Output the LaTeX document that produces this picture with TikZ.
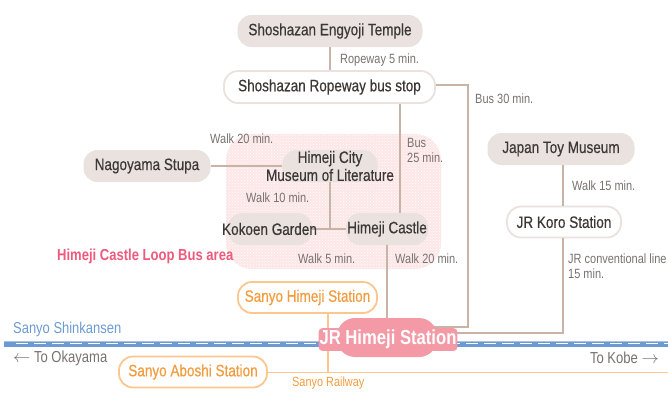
\documentclass[tikz,border=0pt]{standalone}
\usepackage{fontspec}
\setmainfont[FakeStretch=0.82]{Liberation Sans}
\newfontfamily\spotfont[FakeStretch=0.82,FakeBold=0.4]{Liberation Sans}
\usetikzlibrary{patterns}
\definecolor{spotc}{HTML}{E9E2DE}
\definecolor{linec}{HTML}{C8B3A6}
\definecolor{textc}{HTML}{3C3835}
\definecolor{notec}{HTML}{77726F}
\definecolor{sanyoc}{HTML}{F39C3D}
\definecolor{sanyol}{HTML}{FBC78F}
\definecolor{jrc}{HTML}{F39AA6}
\definecolor{loopc}{HTML}{EE5A7C}
\definecolor{blueline}{HTML}{6C9AD2}
\definecolor{areac}{HTML}{FDE6E7}
\tikzset{
  spot/.style={rounded corners=14pt,fill=spotc,text=textc,font=\spotfont\fontsize{16.5}{18}\selectfont,inner sep=0pt,align=center},
  stop/.style={spot,fill=white,draw=spotc,line width=1.8pt},
  sanyo/.style={stop,draw=sanyol,text=sanyoc},
  note/.style={text=notec,font=\fontsize{13.4}{15}\selectfont,inner sep=0pt,align=left},
  route/.style={draw=linec,line width=2.4pt},
  spottext/.style={inner sep=0pt,text=textc,align=center,font=\spotfont\fontsize{16.5}{18}\selectfont},
  away/.style={inner sep=0pt,text=notec,font=\fontsize{15.9}{15}\selectfont},
}
\begin{document}
\begin{tikzpicture}[x=1pt,y=-1pt]
\useasboundingbox (0,0) rectangle (668,392);
% loop bus area
\path[fill=areac,rounded corners=26pt] (226,134) rectangle (441,269);
\path[pattern=crosshatch dots,pattern color=white,rounded corners=26pt] (226,134) rectangle (441,269);
% rail lines
\coordinate (shinW) at (4,343.5);
\coordinate (shinE) at (668,343.5);
\coordinate (railE) at (668,372.5);
\draw[blueline!60!white,line width=6pt] (shinW) -- (shinE);
\draw[blueline,line width=4.8pt] ([yshift=-.6pt]shinW) -- ([yshift=-.6pt]shinE);
\draw[white,line width=1.5pt,dash pattern=on 12pt off 6pt] ([xshift=12pt]shinW) -- (shinE);
% places
\node[spot,minimum width=185pt,minimum height=32pt] (temple) at (330,31) {Shoshazan Engyoji Temple};
\node[stop,minimum width=211pt,minimum height=32pt] (ropeway) at (329.5,87) {Shoshazan Ropeway bus stop};
\node[spot,minimum width=127pt,minimum height=32pt] (stupa) at (147,166) {Nagoyama Stupa};
\node[spot,minimum width=95pt,minimum height=32pt] (museum) at (330,166) {};
\node[spot,minimum width=84pt,minimum height=32pt] (garden) at (270,229) {};
\node[spot,minimum width=82pt,minimum height=32pt] (castle) at (387,229) {};
\node[spot,minimum width=147pt,minimum height=32pt] (toy) at (561,149) {Japan Toy Museum};
\node[stop,minimum width=114pt,minimum height=31pt] (koro) at (564,222) {JR Koro Station};
\node[sanyo,minimum width=139pt,minimum height=31pt] (himeji) at (307.5,297.5) {Sanyo Himeji Station};
\node[sanyo,minimum width=148pt,minimum height=31pt] (aboshi) at (193,372) {Sanyo Aboshi Station};
\coordinate (jrN) at (387,318);
\coordinate (bus30B) at (468,327);
\coordinate (koroB) at (563,333);
\coordinate (busTop) at (400,104);
\coordinate (busEnd) at (400,213);
\coordinate (walkM) at (330,228);
\coordinate (sanyoM) at (328,372.5);
\coordinate (jrA) at (430,327);
\coordinate (jrB) at (430,333);
% connectors
\draw[route] (temple) -- (temple|-ropeway.north);
\draw[route] (stupa.east) -- (museum.west);
\draw[route] (busTop) -- (busEnd);
\draw[route] (museum.south) -- (walkM);
\draw[route] (garden.east) -- (castle.west);
\draw[route] (toy.south-|koroB) -- (koro.north-|koroB);
\draw[route] (koro.south-|koroB) -- (koroB) -- (jrB);
\draw[route] ([yshift=2pt]ropeway.east) -| (bus30B) -- (jrA);
\draw[route] (castle.south) -- (jrN);
\draw[sanyol,line width=1.8pt] (himeji.south-|sanyoM) -- (sanyoM);
\draw[sanyol,line width=1.8pt] (aboshi.east|-railE) -- (railE);
% main station
\node[rounded corners=18pt,fill=jrc,minimum width=100pt,minimum height=39pt,inner sep=0pt] (jr) at (387,337.5) {};
\node[rounded corners=4pt,fill=jrc,inner xsep=1pt,inner ysep=2pt,text=white,font=\bfseries\fontsize{20.3}{18}\selectfont] (jrtext) at (388,339.5) {JR Himeji Station};
% labels laid over the spots
\node[spottext] (museumtext) at (330,166) {Himeji City\\Museum of Literature};
\node[spottext] (gardentext) at (269.5,229) {Kokoen Garden};
\node[spottext] (castletext) at (387,229) {Himeji Castle};
% notes
\node[note,anchor=west] (n1) at (340,60) {Ropeway 5 min.};
\node[note,anchor=west] (n2) at (475,99) {Bus 30 min.};
\node[note,anchor=west] (n3) at (210,139) {Walk 20 min.};
\node[note,anchor=west] (n4) at (407,150.5) {Bus\\25 min.};
\node[note,anchor=west] (n5) at (246,198) {Walk 10 min.};
\node[note,anchor=west] (n6) at (298,259) {Walk 5 min.};
\node[note,anchor=west] (n7) at (395,259) {Walk 20 min.};
\node[note,anchor=west] (n8) at (572,186) {Walk 15 min.};
\node[note,anchor=west] (n9) at (568,266.5) {JR conventional line\\15 min.};
\node[anchor=west,inner sep=0pt,text=loopc,font=\bfseries\fontsize{15.9}{15}\selectfont] (looparea) at (57,256) {Himeji Castle Loop Bus area};
\node[anchor=west,inner sep=0pt,text=blueline,font=\fontsize{15.8}{15}\selectfont] (shinkansen) at (13,329) {Sanyo Shinkansen};
\node[away,anchor=west] (okayama) at (13,358) {$\leftarrow$ To Okayama};
\node[away,anchor=east] (kobe) at (659,358) {To Kobe $\rightarrow$};
\node[anchor=west,inner sep=0pt,text=sanyoc,font=\fontsize{13.3}{15}\selectfont] (railway) at (292,383) {Sanyo Railway};
\end{tikzpicture}
\end{document}
